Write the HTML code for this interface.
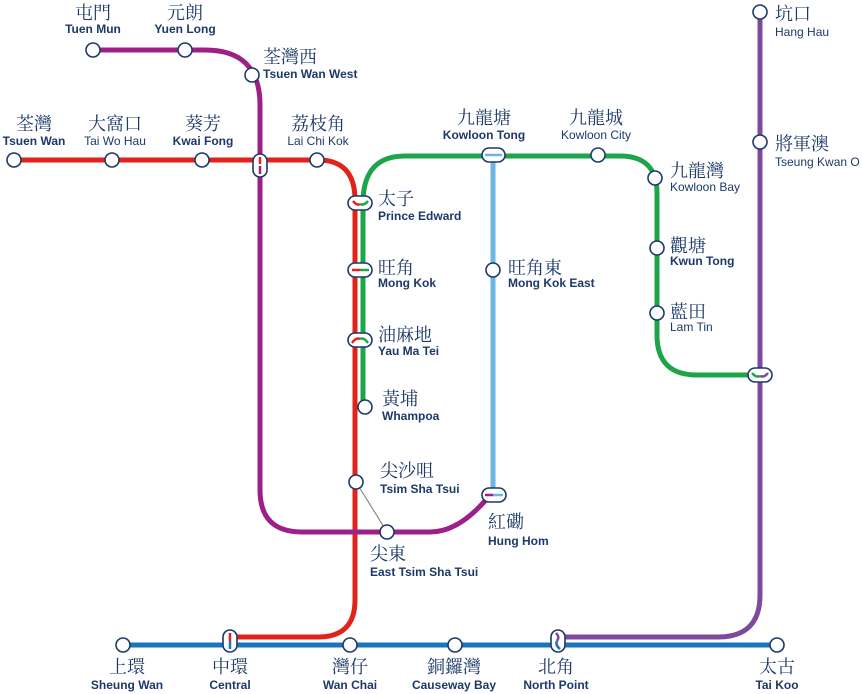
<!DOCTYPE html>
<html><head><meta charset="utf-8"><style>
html,body{margin:0;padding:0;background:#fff;}
svg{display:block}
.c{font-family:"Liberation Serif","Noto Serif CJK SC","Noto Serif CJK TC",serif;font-size:18px;fill:#1c3968;}
.e{font-family:"Liberation Sans",sans-serif;font-size:12px;fill:#1c3968;font-weight:bold;}
.n{font-weight:normal;}
.st{fill:#fff;stroke:#1c3968;stroke-width:1.6;}
.m{text-anchor:middle}
</style></head><body>
<svg width="862" height="694" viewBox="0 0 862 694" xmlns="http://www.w3.org/2000/svg">
<g fill="none" stroke-linecap="butt">
<path d="M493 155 V495" stroke="#6ab7e6" stroke-width="5"/>
<path d="M123 645 H777" stroke="#1a75bb" stroke-width="5"/>
<path d="M14 160 H318 Q355 160 355 200 V600 Q355 637 318 637 H230" stroke="#e2231a" stroke-width="5"/>
<path d="M93 50 H205 Q260 50 260 105 V490 Q260 532 302 532 H430 Q460 532 490 495" stroke="#9e1f87" stroke-width="5"/>
<path d="M363 203 V408 M363 203 Q363 156 405 156 H620 Q657 156 657 193 V335 Q657 375 697 375 H760" stroke="#1ea54a" stroke-width="5"/>
<path d="M760 12 V595 Q760 637 718 637 H558" stroke="#7d4a9c" stroke-width="5"/>
<line x1="356" y1="482" x2="387" y2="532" stroke="#777" stroke-width="1"/>
</g>
<g class="st">
<circle cx="93" cy="50" r="7"/><circle cx="185" cy="50" r="7"/><circle cx="252" cy="75" r="7"/>
<circle cx="14" cy="160" r="7"/><circle cx="112" cy="160" r="7"/><circle cx="202" cy="160" r="7"/><circle cx="317" cy="160" r="7"/>
<circle cx="365" cy="407" r="7"/><circle cx="356" cy="482" r="7"/><circle cx="387" cy="532" r="7"/>
<circle cx="493" cy="270" r="7"/><circle cx="598" cy="155" r="7"/><circle cx="655" cy="178" r="7"/>
<circle cx="657" cy="248" r="7"/><circle cx="657" cy="313" r="7"/>
<circle cx="760" cy="12" r="7"/><circle cx="760" cy="142" r="7"/>
<circle cx="123" cy="645" r="7"/><circle cx="350" cy="645" r="7"/><circle cx="455" cy="645" r="7"/><circle cx="777" cy="645" r="7"/>
<rect x="253" y="154" width="14" height="23" rx="7"/>
<rect x="348" y="196" width="24" height="14" rx="7"/>
<rect x="348" y="263" width="24" height="14" rx="7"/>
<rect x="348" y="333" width="24" height="14" rx="7"/>
<rect x="482" y="148" width="23" height="14" rx="7"/>
<rect x="482" y="488" width="24" height="14" rx="7"/>
<rect x="748" y="368" width="24" height="14" rx="7"/>
<rect x="223" y="630" width="14" height="22" rx="7"/>
<rect x="551" y="630" width="14" height="22" rx="7"/>
</g>
<g fill="none" stroke-width="2.5">
<path d="M260 157 V164" stroke="#e2231a"/><path d="M260 166 V174" stroke="#9e1f87"/>
<path d="M353 201 Q357 206 360 204" stroke="#e2231a"/><path d="M360 204 Q364 206 368 201" stroke="#1ea54a"/>
<path d="M352 270 H360" stroke="#e2231a"/><path d="M360 270 H369" stroke="#1ea54a"/>
<path d="M352 343 Q356 337 360 339" stroke="#e2231a"/><path d="M360 339 Q364 337 368 343" stroke="#1ea54a"/>
<path d="M485 155 H493" stroke="#6ab7e6"/><path d="M493 155 H502" stroke="#6ab7e6"/>
<path d="M485 495 H493" stroke="#9e1f87"/><path d="M493 495 H503" stroke="#6ab7e6"/>
<path d="M752 373 Q756 378 760 376" stroke="#1ea54a"/><path d="M760 376 Q764 378 768 373" stroke="#7d4a9c"/>
<path d="M230 633 V641" stroke="#e2231a"/><path d="M230 641 V649" stroke="#1a75bb"/>
<path d="M556 633 Q560 637 557 641" stroke="#7d4a9c"/><path d="M557 641 Q555 645 560 649" stroke="#1a75bb"/>
</g>
<text class="c m" x="93" y="19">屯門</text><text class="e m" x="93" y="33">Tuen Mun</text>
<text class="c m" x="185" y="19">元朗</text><text class="e m" x="185" y="33">Yuen Long</text>
<text class="c" x="263" y="63">荃灣西</text><text class="e" x="263" y="78">Tsuen Wan West</text>
<text class="c m" x="34" y="130">荃灣</text><text class="e m" x="34" y="145">Tsuen Wan</text>
<text class="c m" x="115" y="130">大窩口</text><text class="e n m" x="115" y="145">Tai Wo Hau</text>
<text class="c m" x="203" y="130">葵芳</text><text class="e m" x="203" y="145">Kwai Fong</text>
<text class="c m" x="318" y="130">荔枝角</text><text class="e n m" x="318" y="145">Lai Chi Kok</text>
<text class="c" x="378" y="205">太子</text><text class="e" x="378" y="220">Prince Edward</text>
<text class="c" x="378" y="274">旺角</text><text class="e" x="378" y="287">Mong Kok</text>
<text class="c" x="378" y="341">油麻地</text><text class="e" x="378" y="355">Yau Ma Tei</text>
<text class="c" x="382" y="405">黃埔</text><text class="e" x="382" y="420">Whampoa</text>
<text class="c" x="380" y="477">尖沙咀</text><text class="e" x="380" y="493">Tsim Sha Tsui</text>
<text class="c" x="370" y="560">尖東</text><text class="e" x="370" y="576">East Tsim Sha Tsui</text>
<text class="c" x="488" y="528">紅磡</text><text class="e" x="488" y="545">Hung Hom</text>
<text class="c m" x="484" y="124">九龍塘</text><text class="e m" x="484" y="139">Kowloon Tong</text>
<text class="c" x="508" y="274">旺角東</text><text class="e" x="508" y="287">Mong Kok East</text>
<text class="c m" x="596" y="124">九龍城</text><text class="e n m" x="596" y="139">Kowloon City</text>
<text class="c" x="670" y="177">九龍灣</text><text class="e n" x="670" y="191">Kowloon Bay</text>
<text class="c" x="670" y="252">觀塘</text><text class="e" x="670" y="265">Kwun Tong</text>
<text class="c" x="670" y="318">藍田</text><text class="e n" x="670" y="331">Lam Tin</text>
<text class="c" x="775" y="20">坑口</text><text class="e n" x="775" y="36">Hang Hau</text>
<text class="c" x="775" y="150">將軍澳</text><text class="e n" x="775" y="166">Tseung Kwan O</text>
<text class="c m" x="127" y="673">上環</text><text class="e m" x="127" y="689">Sheung Wan</text>
<text class="c m" x="230" y="673">中環</text><text class="e m" x="230" y="689">Central</text>
<text class="c m" x="350" y="673">灣仔</text><text class="e m" x="350" y="689">Wan Chai</text>
<text class="c m" x="454" y="673">銅鑼灣</text><text class="e m" x="454" y="689">Causeway Bay</text>
<text class="c m" x="556" y="673">北角</text><text class="e m" x="556" y="689">North Point</text>
<text class="c m" x="777" y="673">太古</text><text class="e m" x="777" y="689">Tai Koo</text>
</svg>
</body></html>
